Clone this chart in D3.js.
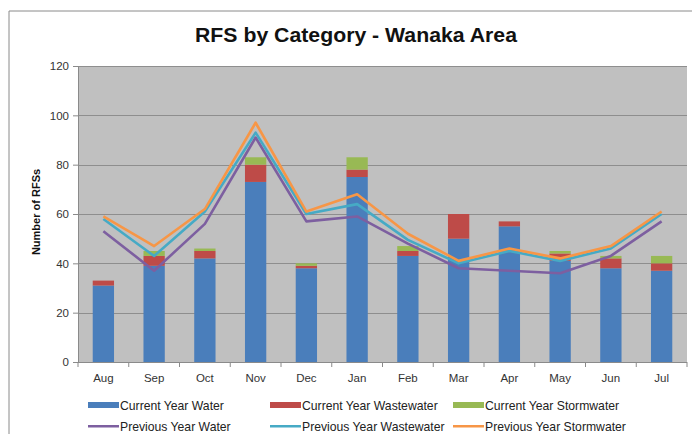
<!DOCTYPE html>
<html>
<head>
<meta charset="utf-8">
<script src="https://cdn.jsdelivr.net/npm/d3@7"></script>
<style>
    body { margin: 0; background: #fff; }
    svg { font-family: "Liberation Sans", Arial, sans-serif; }
</style>
</head>
<body>
<div id="chart"></div>
<script>
const months = ["Aug", "Sep", "Oct", "Nov", "Dec", "Jan", "Feb", "Mar", "Apr", "May", "Jun", "Jul"];

// current year, stacked bars
const curWater      = [31, 39, 42, 73, 38, 75, 43, 50, 55, 41, 38, 37];
const curWastewater = [2, 4, 3, 7, 1, 3, 2, 10, 2, 3, 4, 3];
const curStormwater = [0, 2, 1, 3, 1, 5, 2, 0, 0, 1, 1, 3];

// previous year, lines
const prevWater      = [53, 37, 56, 91, 57, 59, 48, 38, 37, 36, 43, 57];
const prevWastewater = [58, 43, 61, 93, 60, 64, 49.5, 40, 45, 41, 46, 60];
const prevStormwater = [59, 47, 62, 97, 61, 68, 52, 41, 46, 42, 47, 61];

const yTicks = [0, 20, 40, 60, 80, 100, 120];

const barSeries = [
    { name: "Current Year Water", values: curWater, color: "#4a7ebb" },
    { name: "Current Year Wastewater", values: curWastewater, color: "#be4b48" },
    { name: "Current Year Stormwater", values: curStormwater, color: "#98b954" }
];
const lineSeries = [
    { name: "Previous Year Water", values: prevWater, color: "#7d5fa0" },
    { name: "Previous Year Wastewater", values: prevWastewater, color: "#46aac5" },
    { name: "Previous Year Stormwater", values: prevStormwater, color: "#f79646" }
];

const width = 692, height = 434;
const plot = { left: 78, right: 687, top: 66, bottom: 362 };

const svg = d3.select("#chart").append("svg")
    .attr("width", width)
    .attr("height", height);

// outer chart border (only top and left are in frame)
svg.append("path")
    .attr("d", `M9,${height} V11 H${width}`)
    .attr("fill", "none")
    .attr("stroke", "#8a8a8a")
    .attr("stroke-width", 1);

svg.append("text")
    .attr("x", 195)
    .attr("y", 42)
    .attr("textLength", 322)
    .attr("lengthAdjust", "spacingAndGlyphs")
    .style("font-size", "20px")
    .style("font-weight", "bold")
    .style("fill", "#111")
    .text("RFS by Category - Wanaka Area");

const x = d3.scaleBand()
    .domain(months)
    .range([plot.left, plot.right])
    .paddingInner(0.58)
    .paddingOuter(0.29);

const xCenter = d3.scalePoint()
    .domain(months)
    .range([plot.left, plot.right])
    .padding(0.5);

const y = d3.scaleLinear()
    .domain([0, 120])
    .range([plot.bottom, plot.top]);

svg.append("rect")
    .attr("x", plot.left)
    .attr("y", plot.top)
    .attr("width", plot.right - plot.left)
    .attr("height", plot.bottom - plot.top)
    .attr("fill", "#c0c0c0");

// gridlines
svg.append("g")
    .selectAll("line")
    .data(yTicks.filter(d => d > 0))
    .enter().append("line")
    .attr("x1", plot.left)
    .attr("x2", plot.right)
    .attr("y1", d => Math.round(y(d)) + 0.5)
    .attr("y2", d => Math.round(y(d)) + 0.5)
    .attr("stroke", "#8e8e8e")
    .attr("stroke-width", 1.2);

// stacked bars
const stackData = months.map((m, i) => ({
    month: m, w: curWater[i], ww: curWastewater[i], sw: curStormwater[i]
}));
const stacked = d3.stack().keys(["w", "ww", "sw"])(stackData);

svg.append("g")
    .selectAll("g")
    .data(stacked)
    .enter().append("g")
    .attr("fill", (d, i) => barSeries[i].color)
    .selectAll("rect")
    .data(d => d)
    .enter().append("rect")
    .attr("x", d => x(d.data.month))
    .attr("width", x.bandwidth())
    .attr("y", d => y(d[1]))
    .attr("height", d => y(d[0]) - y(d[1]));

// lines
const line = d3.line()
    .x((d, i) => xCenter(months[i]))
    .y(d => y(d));

svg.append("g")
    .selectAll("path")
    .data(lineSeries)
    .enter().append("path")
    .attr("d", d => line(d.values))
    .attr("fill", "none")
    .attr("stroke", d => d.color)
    .attr("stroke-width", 2.6)
    .attr("stroke-linejoin", "round");

// y axis
const yAxis = svg.append("g")
    .attr("transform", `translate(${plot.left},0)`)
    .call(d3.axisLeft(y).tickValues(yTicks).tickSize(5).tickPadding(4));
yAxis.select(".domain").attr("stroke", "#8a8a8a");
yAxis.selectAll(".tick line").attr("stroke", "#8a8a8a");
yAxis.selectAll("text")
    .style("font-size", "11.5px")
    .style("fill", "#333")
    .style("font-family", "'Liberation Sans', Arial, sans-serif");

// x axis: ticks sit between categories
const xAxisG = svg.append("g")
    .attr("transform", `translate(0,${plot.bottom})`);
xAxisG.append("line")
    .attr("x1", plot.left).attr("x2", plot.right)
    .attr("y1", 0.5).attr("y2", 0.5)
    .attr("stroke", "#8a8a8a");
xAxisG.selectAll(".xtick")
    .data(d3.range(months.length + 1))
    .enter().append("line")
    .attr("class", "xtick")
    .attr("x1", i => plot.left + i * x.step())
    .attr("x2", i => plot.left + i * x.step())
    .attr("y1", 0)
    .attr("y2", 5)
    .attr("stroke", "#8a8a8a");
xAxisG.selectAll("text")
    .data(months)
    .enter().append("text")
    .attr("x", d => xCenter(d))
    .attr("y", 20)
    .attr("text-anchor", "middle")
    .style("font-size", "11.5px")
    .style("fill", "#333")
    .text(d => d);

svg.append("text")
    .attr("transform", `translate(40,212) rotate(-90)`)
    .attr("text-anchor", "middle")
    .style("font-size", "11px")
    .style("font-weight", "bold")
    .style("fill", "#111")
    .text("Number of RFSs");

// legend
const legendCols = [88, 270, 453];
const legendRows = [405, 426];
const legendItems = barSeries.map((s, i) => ({ s: s, col: i, row: 0, bar: true }))
    .concat(lineSeries.map((s, i) => ({ s: s, col: i, row: 1, bar: false })));

const legend = svg.append("g")
    .selectAll("g")
    .data(legendItems)
    .enter().append("g")
    .attr("transform", d => `translate(${legendCols[d.col]},${legendRows[d.row]})`);

legend.append("rect")
    .attr("x", 0)
    .attr("width", 31)
    .attr("y", d => d.bar ? -3 : -1)
    .attr("height", d => d.bar ? 6 : 2.5)
    .attr("fill", d => d.s.color);

legend.append("text")
    .attr("x", 32)
    .attr("y", 4.5)
    .style("font-size", "12.2px")
    .style("fill", "#222")
    .text(d => d.s.name);
</script>
</body>
</html>
